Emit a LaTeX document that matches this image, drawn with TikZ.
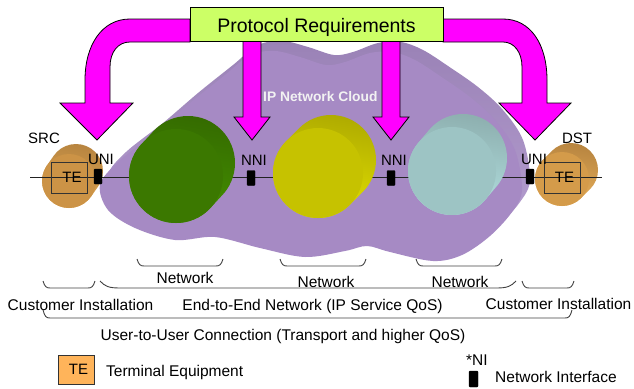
\documentclass[tikz,border=0pt]{standalone}
\usepackage{fontspec}
\setmainfont{Liberation Sans}
\usetikzlibrary{calc}

\definecolor{reqfill}{HTML}{CCFF66}
\definecolor{magentaA}{HTML}{FF00FF}
\definecolor{cloudfront}{HTML}{A68AC4}
\definecolor{cloudback}{HTML}{B7A0D2}
\definecolor{cloudedge}{HTML}{9A82B6}
\definecolor{grnF}{HTML}{3B7800}
\definecolor{grnL}{HTML}{459200}
\definecolor{grnD}{HTML}{356C00}
\definecolor{yelF}{HTML}{C6C200}
\definecolor{yelL}{HTML}{E4E200}
\definecolor{yelD}{HTML}{B0AC00}
\definecolor{cyaF}{HTML}{9DC4C4}
\definecolor{cyaL}{HTML}{B5E4E4}
\definecolor{cyaD}{HTML}{8EB0B0}
\definecolor{ornF}{HTML}{CC9346}
\definecolor{ornL}{HTML}{E2A955}
\definecolor{ornD}{HTML}{B88540}
\definecolor{ornF2}{HTML}{D49B4A}
\definecolor{ornL2}{HTML}{EAB25C}
\definecolor{legendTE}{HTML}{FFB45A}
\definecolor{inkline}{HTML}{222222}

% extruded disc: name, cx, cy, r, dx, dy, front, light side, dark side
\newcommand{\drum}[9]{%
  \shade[top color=#9, middle color=#8, bottom color=#8, shading angle=-10]
    \foreach \k in {0,...,12} { ({#2+#5*\k/12},{#3+#6*\k/12}) circle[radius=#4pt] };
  \fill[#7] (#2,#3) circle[radius=#4pt];
  \node[circle, inner sep=0pt, minimum size={2*#4pt}] (#1) at (#2,#3) {};
}

% bracket below a span: x1, x2, y of tips, y of line, curl length
\newcommand{\spanbrace}[5]{%
  \draw[bracket] (#1,#3) .. controls ({#1+0.25*#5},{#4-1.5}) and ({#1+0.45*#5},#4) .. ({#1+#5},#4)
    -- ({#2-#5},#4) .. controls ({#2-0.45*#5},#4) and ({#2-0.25*#5},{#4-1.5}) .. (#2,#3);
}

\begin{document}
\begin{tikzpicture}[x=1pt,y=-1pt,
  txt/.style={font=\fontsize{15.5}{18}\selectfont, inner sep=0pt, anchor=base},
  tag/.style={font=\fontsize{15}{18}\selectfont, inner sep=0pt, anchor=base},
  blockarrow/.style={fill=magentaA, draw=black, line width=0.8pt, line join=miter},
  link/.style={draw=inkline, line width=1pt},
  iface/.style={fill=black, draw=black, rectangle, rounded corners=1pt, inner sep=0pt, minimum width=8pt, minimum height=15pt},
  tebox/.style={draw=black!80, line width=0.8pt, rectangle, inner sep=0pt, minimum width=36pt, minimum height=31pt, font=\fontsize{15}{18}\selectfont},
  bracket/.style={draw=black!75, line width=0.9pt}
]
\useasboundingbox (0,0) rectangle (634,388);

% source terminal equipment, partly behind the cloud
\drum{src-drum}{69}{181}{27}{7}{-10}{ornF}{ornL}{ornD}

% the IP network cloud: back face, then front face
\shade[top color=cloudedge, bottom color=cloudback, shift={(8,-10)}]
  plot[smooth cycle, tension=0.55] coordinates {
  (100,185) (108,210) (135,228) (175,240) (215,237) (260,248) (305,257) (345,251)
  (367,246) (390,252) (433,261) (462,255) (490,236) (512,212) (522,190) (515,150)
  (495,120) (470,97) (440,76) (415,60) (393,52) (370,53) (345,62) (326,65)
  (300,57) (275,51) (250,55) (225,75) (190,103) (155,133) (118,162)};
\fill[cloudfront]
  plot[smooth cycle, tension=0.55] coordinates {
  (100,185) (108,210) (135,228) (175,240) (215,237) (260,248) (305,257) (345,251)
  (367,246) (390,252) (433,261) (462,255) (490,236) (512,212) (522,190) (515,150)
  (495,120) (470,97) (440,76) (415,60) (393,52) (370,53) (345,62) (326,65)
  (300,57) (275,51) (250,55) (225,75) (190,103) (155,133) (118,162)};
\node[font=\bfseries\fontsize{13.8}{16}\selectfont, text=white!95!black, inner sep=0pt, anchor=base west] (cloud-lbl) at (263,101) {IP Network Cloud};

% destination terminal equipment
\drum{dst-drum}{562}{179}{27}{9}{-9}{ornF2}{ornL2}{ornD}

% transport line from end to end
\coordinate (src-end) at (30,177.5);
\coordinate (dst-end) at (602,177.5);
\draw[link] (src-end) -- (dst-end);

% the three networks
\drum{net-a}{176}{176}{47}{12}{-13}{grnF}{grnL}{grnD}
\drum{net-b}{318}{173}{45}{13}{-13}{yelF}{yelL}{yelD}
\drum{net-c}{452}{171}{44}{11}{-13}{cyaF}{cyaL}{cyaD}

% interfaces
\node[iface] (uni-src) at (98,176.5) {};
\node[iface] (nni-a) at (251,178) {};
\node[iface] (nni-b) at (391,178) {};
\node[iface] (uni-dst) at (530,176.5) {};
\node[tebox] (te-src) at (69.5,177.5) {\hspace*{5pt}TE};
\node[tebox] (te-dst) at (562,177.5) {\hspace*{5pt}TE};

\node[tag] (uni-src-lbl) at (101,164) {UNI};
\node[tag] (nni-a-lbl) at (254,165) {NNI};
\node[tag] (nni-b-lbl) at (394,165) {NNI};
\node[tag] (uni-dst-lbl) at (534,164) {UNI};
\node[tag] (src-lbl) at (44,143) {SRC};
\node[tag] (dst-lbl) at (577,143) {DST};

% protocol requirements and the arrows fanning out from it
\draw[blockarrow] (190,19) -- (130,19) .. controls (102,19) and (85,45) .. (85,80) -- (85,103)
  -- (60,103) -- (97,140) -- (133,103) -- (110,103) -- (110,67)
  .. controls (110,52) and (118,42) .. (130,42) -- (190,42) -- cycle;
\draw[blockarrow] (443,19) -- (503,19) .. controls (531,19) and (547,45) .. (547,80) -- (547,103)
  -- (571,103) -- (535,140) -- (499,103) -- (522,103) -- (522,67)
  .. controls (522,52) and (514,42) .. (503,42) -- (443,42) -- cycle;
\draw[blockarrow] (243,41) -- (261,41) -- (261,117) -- (270,117) -- (252,140) -- (234,117) -- (243,117) -- cycle;
\draw[blockarrow] (382,41) -- (400,41) -- (400,117) -- (409,117) -- (391,140) -- (373,117) -- (382,117) -- cycle;
\node[fill=reqfill, draw=black, line width=0.9pt, minimum width=253pt, minimum height=34pt, inner sep=0pt] (req) at (316.5,24) {};
\node[font=\fontsize{19.5}{22}\selectfont, inner sep=0pt, anchor=base] (req-lbl) at (316.5,32) {Protocol Requirements};

% extents of the segments
\spanbrace{137}{223}{259}{266}{7}
\spanbrace{280}{366}{259}{266}{7}
\spanbrace{416}{502}{259}{266}{7}
\spanbrace{43}{95}{281}{288}{7}
\spanbrace{522}{574}{281}{288}{7}
\spanbrace{100}{516}{281}{288}{20}
\spanbrace{43}{572}{310}{318}{7}

\node[txt] (net-a-lbl) at (185,283) {Network};
\node[txt] (net-b-lbl) at (326,287) {Network};
\node[txt] (net-c-lbl) at (460,287) {Network};
\node[txt] (ci-src) at (80.5,310) {Customer Installation};
\node[txt] (e2e) at (312.5,310) {End-to-End Network (IP Service QoS)};
\node[txt] (ci-dst) at (558.5,309) {Customer Installation};
\node[txt] (u2u) at (283,340) {User-to-User Connection (Transport and higher QoS)};

% legend
\node[tebox, fill=legendTE, minimum width=36pt, minimum height=29pt] (key-te) at (76,369.5) {\hspace*{5pt}TE};
\node[txt, anchor=base west] (key-te-lbl) at (106,376) {Terminal Equipment};
\node[txt, anchor=base west] (key-ni) at (466,365) {*NI};
\node[iface, minimum width=9pt, minimum height=16pt] (key-ni-mark) at (473.5,379) {};
\node[txt, anchor=base west] (key-ni-lbl) at (495,382) {Network Interface};
\end{tikzpicture}
\end{document}
